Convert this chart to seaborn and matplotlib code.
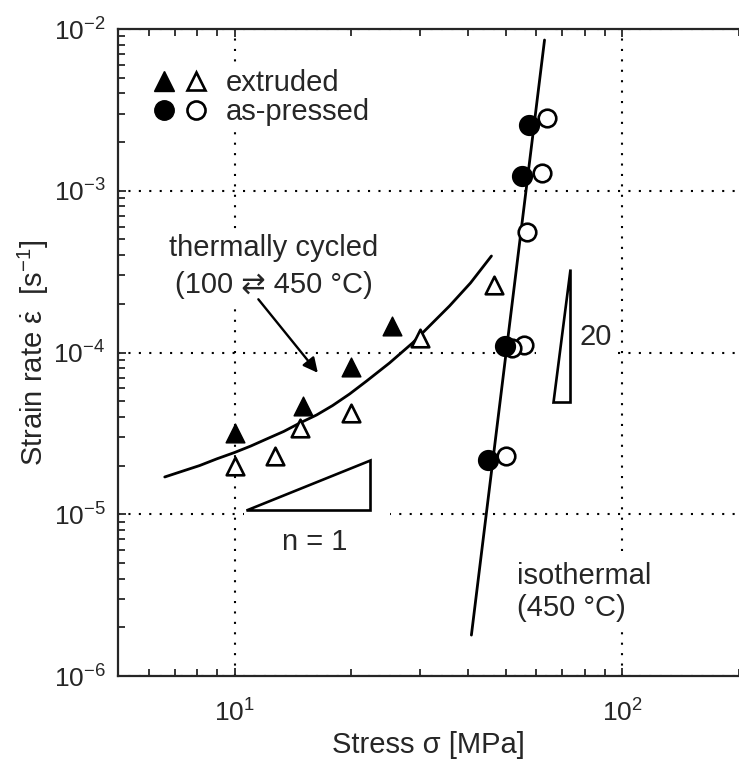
import numpy as np
import pandas as pd
import seaborn as sns
import matplotlib.pyplot as plt
from matplotlib.lines import Line2D
from matplotlib.patches import Rectangle
from matplotlib.legend_handler import HandlerTuple
from matplotlib.ticker import LogLocator, NullFormatter

# extruded, thermally cycled (filled) / isothermal (open)
ext_filled_x = [10, 15, 20, 25.5]
ext_filled_y = [3.2e-5, 4.7e-5, 8.1e-5, 1.46e-4]
ext_open_x = [10, 12.7, 14.7, 20, 30, 46.6]
ext_open_y = [2.0e-5, 2.3e-5, 3.4e-5, 4.2e-5, 1.23e-4, 2.6e-4]

# as-pressed
pr_filled_x = [57.3, 55.2, 49.7, 44.9]
pr_filled_y = [2.55e-3, 1.23e-3, 1.10e-4, 2.16e-5]
pr_open_x = [64.1, 62.2, 56.9, 55.8, 51.8, 50.2]
pr_open_y = [2.82e-3, 1.29e-3, 5.56e-4, 1.11e-4, 1.07e-4, 2.29e-5]

# fitted curves
cyc_x = [6.60, 7.30, 8.12, 8.99, 10.0, 11.0, 12.09, 13.38, 14.71, 16.27, 17.89, 19.79,
         21.89, 25.08, 28.76, 32.0, 35.83, 40.58, 45.96]
cyc_y = [1.70e-5, 1.84e-5, 2.00e-5, 2.20e-5, 2.41e-5, 2.64e-5, 2.92e-5, 3.25e-5,
         3.66e-5, 4.11e-5, 4.70e-5, 5.54e-5, 6.66e-5, 8.61e-5, 1.145e-4, 1.48e-4,
         1.94e-4, 2.69e-4, 3.95e-4]
iso_x = [63.0, 40.8]
iso_y = [8.55e-3, 1.79e-6]

# slope triangles
n1_x = [10.67, 22.3, 22.3, 10.67]
n1_y = [1.06e-5, 1.06e-5, 2.16e-5, 1.06e-5]
n20_x = [66.1, 73.5, 73.5, 66.1]
n20_y = [4.94e-5, 4.94e-5, 3.28e-4, 4.94e-5]

sns.set_style("ticks")
plt.rcParams['font.family'] = ['Liberation Sans', 'DejaVu Sans']
plt.rcParams['mathtext.fontset'] = 'custom'
plt.rcParams['mathtext.rm'] = 'Liberation Sans'
plt.rcParams['mathtext.it'] = 'Liberation Sans:italic'
plt.rcParams['axes.linewidth'] = 1.6

fig = plt.figure(figsize=(7.39, 7.64), dpi=100)
ax = fig.add_axes([118/739, 1 - 676/764, 621/739, 647/764])
ax.set_xscale('log')
ax.set_yscale('log')

fs = 21

sns.lineplot(x=cyc_x, y=cyc_y, ax=ax, color='black', lw=2.0, sort=False, estimator=None, zorder=2)
sns.lineplot(x=iso_x, y=iso_y, ax=ax, color='black', lw=2.0, sort=False, estimator=None, zorder=2)

sns.scatterplot(x=ext_open_x, y=ext_open_y, ax=ax, marker='^', s=160, color='white',
                edgecolor='black', linewidth=1.9, zorder=3)
sns.scatterplot(x=ext_filled_x, y=ext_filled_y, ax=ax, marker='^', s=180, color='black',
                edgecolor='black', zorder=3)
sns.scatterplot(x=pr_open_x, y=pr_open_y, ax=ax, marker='o', s=160, color='white',
                edgecolor='black', linewidth=1.9, zorder=3)
sns.scatterplot(x=pr_filled_x, y=pr_filled_y, ax=ax, marker='o', s=200, color='black',
                edgecolor='black', zorder=4)

ax.fill(n1_x, n1_y, facecolor='white', edgecolor='black', lw=1.9, zorder=2)
ax.fill(n20_x, n20_y, facecolor='white', edgecolor='black', lw=1.9, zorder=2)

# white masks interrupting the grid behind labels
ax.add_patch(Rectangle((10.6, 8.0e-6), 25.1 - 10.6, 1.05e-5 - 8.0e-6, facecolor='white',
                       edgecolor='none', zorder=1))
ax.add_patch(Rectangle((60, 6.0e-5), 97 - 60, 2.0e-4 - 6.0e-5, facecolor='white',
                       edgecolor='none', zorder=1))

ax.text(12.6, 3.40e-4, 'thermally cycled\n(100 \u21c4 450 \u00b0C)', ha='center', va='center',
        fontsize=fs, linespacing=1.45, zorder=2,
        bbox=dict(facecolor='white', edgecolor='none', pad=2))
ax.annotate('', xy=(16.56, 7.26e-5), xytext=(11.39, 2.2e-4),
            arrowprops=dict(arrowstyle='-|>', color='black', lw=1.7, mutation_scale=22), zorder=2)
ax.text(53.6, 3.3e-6, 'isothermal\n(450 \u00b0C)', ha='left', va='center', fontsize=fs,
        linespacing=1.2, zorder=2, bbox=dict(facecolor='white', edgecolor='none', pad=2))
ax.text(16.1, 6.73e-6, 'n = 1', ha='center', va='center', fontsize=fs, zorder=2)
ax.text(77.4, 1.25e-4, '20', ha='left', va='center', fontsize=fs, zorder=2)

h_ext = (Line2D([], [], marker='^', ls='', color='black', markersize=14),
         Line2D([], [], marker='^', ls='', markerfacecolor='white', markeredgecolor='black',
                markeredgewidth=1.9, markersize=13))
h_pr = (Line2D([], [], marker='o', ls='', color='black', markersize=14),
        Line2D([], [], marker='o', ls='', markerfacecolor='white', markeredgecolor='black',
               markeredgewidth=1.9, markersize=13))
leg = ax.legend([h_ext, h_pr], ['extruded', 'as-pressed'], loc='upper left',
                bbox_to_anchor=(0.053, 0.942), frameon=True, fancybox=False, framealpha=1,
                facecolor='white', edgecolor='none', fontsize=fs,
                handler_map={tuple: HandlerTuple(ndivide=None, pad=0.42)},
                handlelength=1.8, handletextpad=0.65, labelspacing=0.03, borderaxespad=0,
                borderpad=0.1)

ax.set_xlim(5, 200)
ax.set_ylim(1e-6, 1e-2)
ax.xaxis.set_major_locator(LogLocator(base=10, numticks=10))
ax.yaxis.set_major_locator(LogLocator(base=10, numticks=10))
ax.xaxis.set_minor_locator(LogLocator(base=10, subs=np.arange(2, 10), numticks=20))
ax.yaxis.set_minor_locator(LogLocator(base=10, subs=np.arange(2, 10), numticks=20))
ax.xaxis.set_minor_formatter(NullFormatter())
ax.yaxis.set_minor_formatter(NullFormatter())
ax.tick_params(which='both', direction='in', top=True, right=False, width=1.3)
ax.tick_params(which='major', length=6, labelsize=19, pad=9)
ax.tick_params(which='minor', length=5)
ax.tick_params(axis='x', which='major', pad=17)
ax.spines['right'].set_visible(False)

ax.set_axisbelow(True)
ax.grid(True, which='major', color='black', linestyle=(0, (1, 4)), linewidth=1.5)

ax.set_xlabel('Stress \u03c3 [MPa]', fontsize=fs, labelpad=3)
ax.set_ylabel('Strain rate $\\dot{\\mathrm{\\varepsilon}}$  [s$^{-1}$]', fontsize=fs, labelpad=2)

fig.savefig('out.png', dpi=100)
